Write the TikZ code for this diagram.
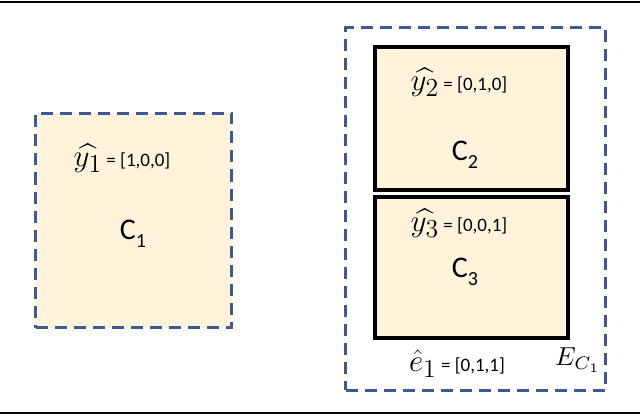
\documentclass[tikz,border=0pt]{standalone}
\usepackage{amsmath}
\usepackage{fontspec}
\setmainfont{Carlito}
\newcommand{\subn}[1]{\raisebox{-0.28em}{\fontsize{20}{22}\selectfont #1}}
\begin{document}
\begin{tikzpicture}[x=1pt,y=-1pt,
  dbox/.style={draw=dblue, line width=3pt, dash pattern=on 12pt off 7pt},
  sbox/.style={draw=black, line width=3.2pt, fill=cream},
  lbl/.style={font=\fontsize{19}{21}\selectfont},
  big/.style={font=\fontsize{30}{32}\selectfont}]
\definecolor{cream}{HTML}{FFF3DC}
\definecolor{dblue}{HTML}{3D5A94}
\useasboundingbox (0,0) rectangle (640,417);
\draw[line width=1.2pt] (0,2) coordinate (tl) -- (640,2) coordinate (tr);
\draw[line width=1.2pt] (0,413) coordinate (bl) -- (640,413) coordinate (br);
\node[dbox, fill=cream, minimum width=196pt, minimum height=214pt, inner sep=0pt] (b1) at (133.5,220.5) {};
\node[lbl] (l1) at (122,158) {\scalebox{1.8}{$\widehat{y_1}$} = [1,0,0]};
\node[big] (c1) at (133,234) {C\subn{1}};
\node[dbox, minimum width=260pt, minimum height=362pt, inner sep=0pt] (e) at (475.5,209) {};
\node[sbox, minimum width=193pt, minimum height=143pt, inner sep=0pt] (b2) at (471.5,118.5) {};
\node[lbl] (l2) at (459,82) {\scalebox{1.8}{$\widehat{y_2}$} = [0,1,0]};
\node[big] (c2) at (465,155) {C\subn{2}};
\node[sbox, minimum width=193pt, minimum height=141pt, inner sep=0pt] (b3) at (471.5,267.5) {};
\node[lbl] (l3) at (459,223) {\scalebox{1.8}{$\widehat{y_3}$} = [0,0,1]};
\node[big] (c3) at (465,272) {C\subn{3}};
\node[lbl] (le) at (457,364) {\scalebox{1.8}{$\hat{e}_1$} = [0,1,1]};
\node (ec) at (578,360) {\scalebox{2.6}{$E_{C_1}$}};
\end{tikzpicture}
\end{document}
